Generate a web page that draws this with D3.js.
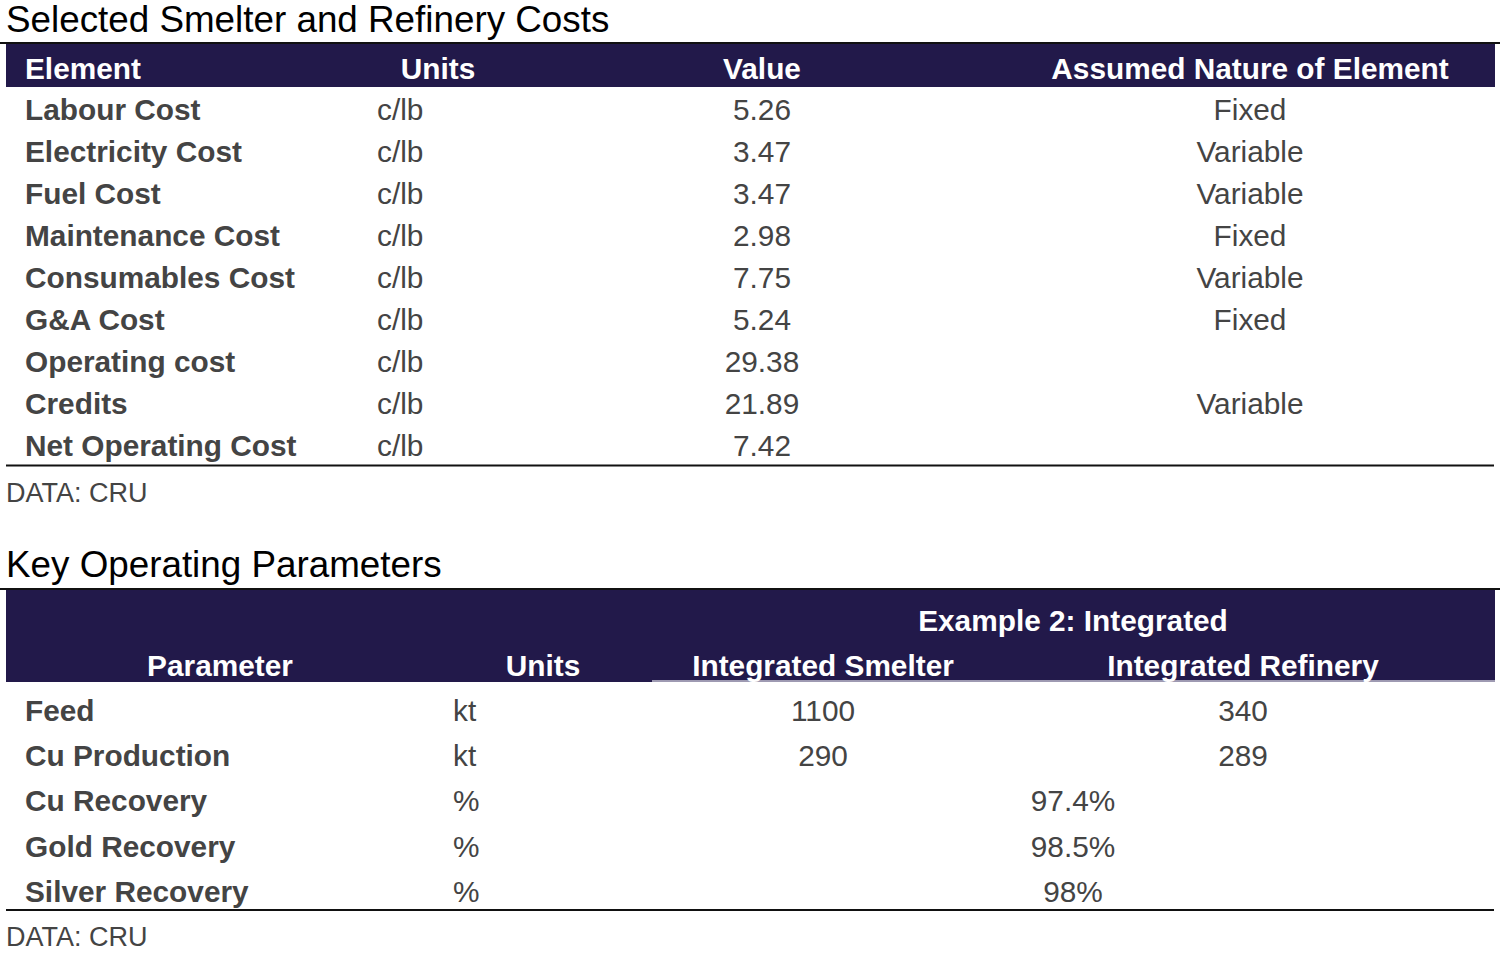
<!DOCTYPE html>
<html>
<head>
<meta charset="utf-8">
<script src="https://d3js.org/d3.v7.min.js"></script>
<style>
  body { margin: 0; background: #fff; }
  text { font-family: "Liberation Sans", Arial, sans-serif; }
</style>
</head>
<body>
<div id="tables"></div>
<script>
// table 1 data
var costElements = ["Labour Cost", "Electricity Cost", "Fuel Cost", "Maintenance Cost",
  "Consumables Cost", "G&A Cost", "Operating cost", "Credits", "Net Operating Cost"];
var costUnits = ["c/lb", "c/lb", "c/lb", "c/lb", "c/lb", "c/lb", "c/lb", "c/lb", "c/lb"];
var costValues = ["5.26", "3.47", "3.47", "2.98", "7.75", "5.24", "29.38", "21.89", "7.42"];
var costNature = ["Fixed", "Variable", "Variable", "Fixed", "Variable", "Fixed", "", "Variable", ""];
var costHeaders = ["Element", "Units", "Value", "Assumed Nature of Element"];

// table 2 data
var params = ["Feed", "Cu Production", "Cu Recovery", "Gold Recovery", "Silver Recovery"];
var paramUnits = ["kt", "kt", "%", "%", "%"];
var smelterValues = ["1100", "290", null, null, null];
var refineryValues = ["340", "289", null, null, null];
var mergedValues = [null, null, "97.4%", "98.5%", "98%"];
var paramHeaders = ["Parameter", "Units", "Integrated Smelter", "Integrated Refinery"];
var groupHeader = "Example 2: Integrated";

var source = "DATA: CRU";

var width = 1504, height = 953;
var navy = "#22194a", grey = "#444444";
var fs = 29.8;

var svg = d3.select("#tables")
  .append("svg")
    .attr("width", width)
    .attr("height", height);

// ---------- table 1 ----------
svg.append("text")
  .attr("x", 6).attr("y", 32)
  .style("font-size", "36.8px").style("fill", "#000")
  .text("Selected Smelter and Refinery Costs");

svg.append("line")
  .attr("x1", 0).attr("x2", 1500).attr("y1", 43).attr("y2", 43)
  .attr("stroke", "#111").attr("stroke-width", 2);

svg.append("rect")
  .attr("x", 6).attr("y", 44).attr("width", 1489).attr("height", 43)
  .attr("fill", navy);

// header x positions and anchors
var head1X = [25, 438, 762, 1250];
var head1Anchor = ["start", "middle", "middle", "middle"];
svg.selectAll("head1")
  .data(costHeaders)
  .enter()
  .append("text")
    .attr("x", function(d, i) { return head1X[i]; })
    .attr("y", 78.5)
    .attr("text-anchor", function(d, i) { return head1Anchor[i]; })
    .style("font-size", fs + "px").style("font-weight", "bold").style("fill", "#fff")
    .text(function(d) { return d; });

var y1 = d3.scaleBand()
  .domain(costElements)
  .range([89, 467]);

var rows1 = svg.selectAll("row1")
  .data(costElements)
  .enter()
  .append("g")
    .attr("transform", function(d) { return "translate(0," + (y1(d) + y1.bandwidth() / 2 + 9.5) + ")"; });

rows1.append("text")
  .attr("x", 25)
  .style("font-size", fs + "px").style("font-weight", "bold").style("fill", grey)
  .text(function(d) { return d; });
rows1.append("text")
  .attr("x", 377)
  .style("font-size", fs + "px").style("fill", grey)
  .text(function(d, i) { return costUnits[i]; });
rows1.append("text")
  .attr("x", 762).attr("text-anchor", "middle")
  .style("font-size", fs + "px").style("fill", grey)
  .text(function(d, i) { return costValues[i]; });
rows1.append("text")
  .attr("x", 1250).attr("text-anchor", "middle")
  .style("font-size", fs + "px").style("fill", grey)
  .text(function(d, i) { return costNature[i]; });

svg.append("line")
  .attr("x1", 6).attr("x2", 1494).attr("y1", 465.5).attr("y2", 465.5)
  .attr("stroke", "#111").attr("stroke-width", 2);

svg.append("text")
  .attr("x", 6).attr("y", 502)
  .style("font-size", "27px").style("fill", grey)
  .text(source);

// ---------- table 2 ----------
svg.append("text")
  .attr("x", 6).attr("y", 577)
  .style("font-size", "36.8px").style("fill", "#000")
  .text("Key Operating Parameters");

svg.append("line")
  .attr("x1", 0).attr("x2", 1500).attr("y1", 589).attr("y2", 589)
  .attr("stroke", "#111").attr("stroke-width", 2);

svg.append("rect")
  .attr("x", 6).attr("y", 590).attr("width", 1489).attr("height", 92)
  .attr("fill", navy);
svg.append("line")
  .attr("x1", 652).attr("x2", 1495).attr("y1", 681).attr("y2", 681)
  .attr("stroke", "#c9c6d6").attr("stroke-width", 1.5);

svg.append("text")
  .attr("x", 1073).attr("y", 631).attr("text-anchor", "middle")
  .style("font-size", fs + "px").style("font-weight", "bold").style("fill", "#fff")
  .text(groupHeader);

var head2X = [220, 543, 823, 1243];
svg.selectAll("head2")
  .data(paramHeaders)
  .enter()
  .append("text")
    .attr("x", function(d, i) { return head2X[i]; })
    .attr("y", 676)
    .attr("text-anchor", "middle")
    .style("font-size", fs + "px").style("font-weight", "bold").style("fill", "#fff")
    .text(function(d) { return d; });

var y2 = d3.scaleBand()
  .domain(params)
  .range([688.5, 915]);

var rows2 = svg.selectAll("row2")
  .data(params)
  .enter()
  .append("g")
    .attr("transform", function(d) { return "translate(0," + (y2(d) + y2.bandwidth() / 2 + 9.5) + ")"; });

rows2.append("text")
  .attr("x", 25)
  .style("font-size", fs + "px").style("font-weight", "bold").style("fill", grey)
  .text(function(d) { return d; });
rows2.append("text")
  .attr("x", 453)
  .style("font-size", fs + "px").style("fill", grey)
  .text(function(d, i) { return paramUnits[i]; });
rows2.append("text")
  .attr("x", 823).attr("text-anchor", "middle")
  .style("font-size", fs + "px").style("fill", grey)
  .text(function(d, i) { return smelterValues[i] || ""; });
rows2.append("text")
  .attr("x", 1243).attr("text-anchor", "middle")
  .style("font-size", fs + "px").style("fill", grey)
  .text(function(d, i) { return refineryValues[i] || ""; });
rows2.append("text")
  .attr("x", 1073).attr("text-anchor", "middle")
  .style("font-size", fs + "px").style("fill", grey)
  .text(function(d, i) { return mergedValues[i] || ""; });

svg.append("line")
  .attr("x1", 6).attr("x2", 1494).attr("y1", 910).attr("y2", 910)
  .attr("stroke", "#111").attr("stroke-width", 2);

svg.append("text")
  .attr("x", 6).attr("y", 946)
  .style("font-size", "27px").style("fill", grey)
  .text(source);
</script>
</body>
</html>
